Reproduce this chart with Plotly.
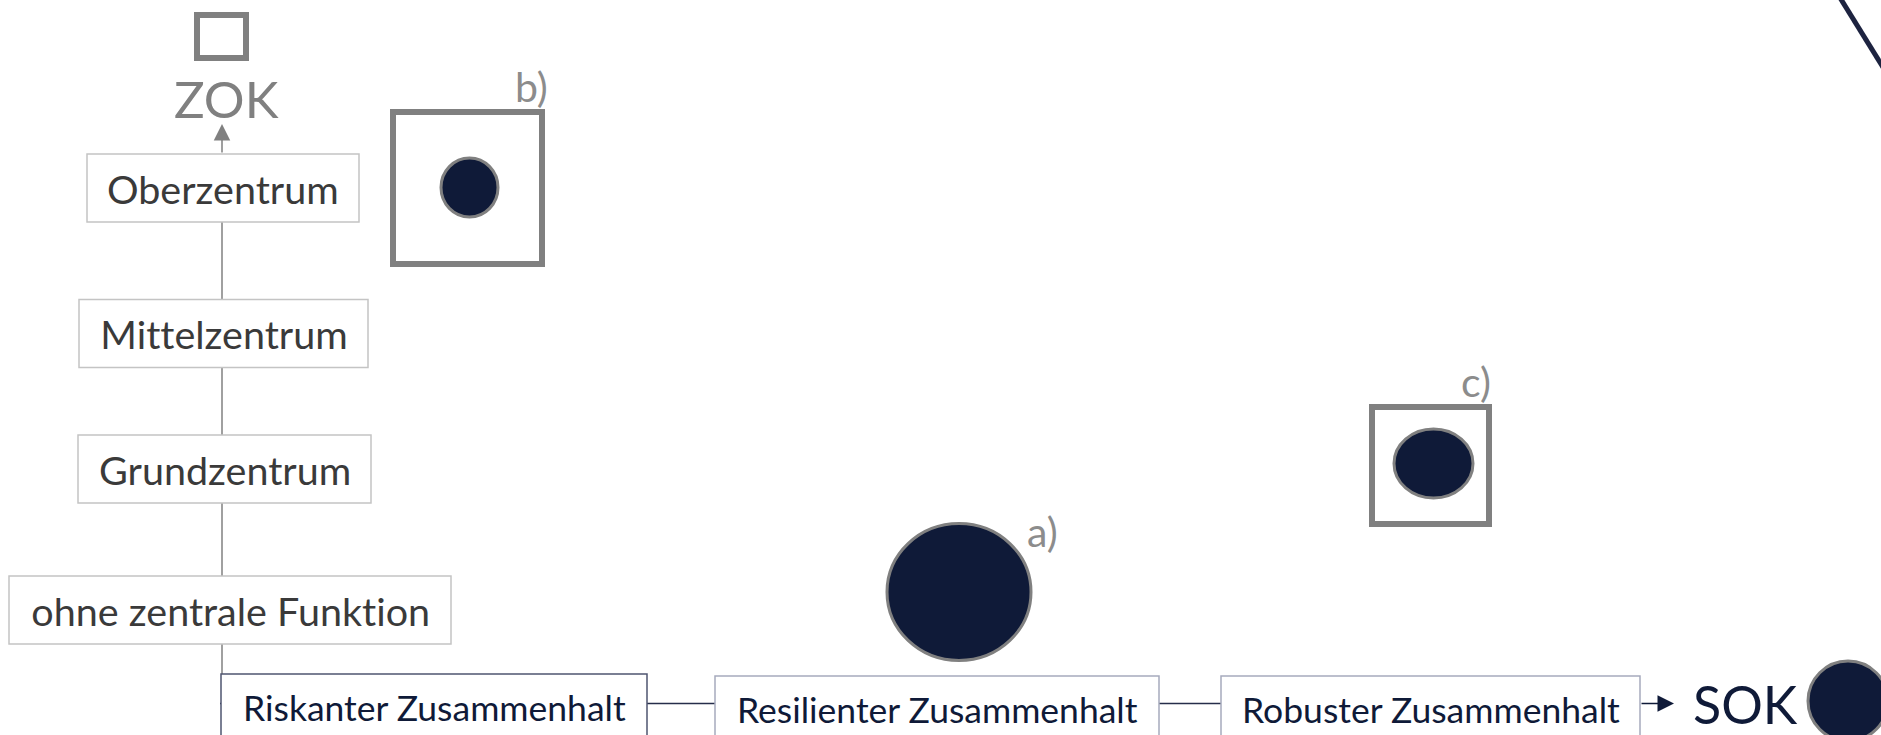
import plotly.graph_objects as go

W, H = 1881, 735

# ---------------- content (data) ----------------
zentral_levels = ["Oberzentrum", "Mittelzentrum", "Grundzentrum", "ohne zentrale Funktion"]
zusammenhalt_levels = ["Riskanter Zusammenhalt", "Resilienter Zusammenhalt", "Robuster Zusammenhalt"]
axis_titles = ["ZOK", "SOK"]
case_labels = ["a)", "b)", "c)"]
case_framed = [False, True, True]

# ---------------- geometry (pixels, layout only) ----------------
V_X = 222                      # vertical axis x
H_Y = 703.5                    # horizontal axis y
BOX_H = 68
zentral_box_cx = [223, 223.5, 224.5, 230]
zentral_box_cy = [188, 333.5, 469, 610]
zentral_box_w = [272, 289, 293, 442]
zus_box_cx = [434, 937, 1430.5]
zus_box_top = [674, 676, 676]
zus_box_w = [426, 444, 419]

case_cx = [959, 469.5, 1433.5]
case_cy = [592, 187.5, 463.5]
case_w = [144, 57, 79]
case_h = [137, 59, 69]
frame_c = [None, (467.5, 188), (1430.5, 465.5)]
frame_wh = [None, (149, 152), (117, 117)]
label_xy = [(1042, 531), (531, 86), (1476, 381)]

zok_icon_c, zok_icon_wh = (221.5, 36.5), (49, 43)
zok_text_xy = (226, 98)
sok_text_xy = (1745, 704)
sok_circle_c, sok_circle_r = (1848, 701), 40
arrow_v = (154, 124)           # from / to (y)
arrow_h = (1640, 1674)         # from / to (x)
diag = ((1834, -12), (1886, 72))

GRAY = "#808080"
NAVY = "#0f1a38"
TXT = "#3a3a3a"
FONT = "Lato"

shapes, annos = [], []

# axis lines (below boxes)
shapes.append(dict(type="line", x0=V_X, x1=V_X, y0=H_Y, y1=arrow_v[0],
                   line=dict(color=GRAY, width=1.5), layer="below"))
shapes.append(dict(type="line", x0=V_X - 2, x1=arrow_h[0], y0=H_Y, y1=H_Y,
                   line=dict(color="#262d4a", width=1.5), layer="below"))

# vertical category boxes
for lab, cx, cy, w in zip(zentral_levels, zentral_box_cx, zentral_box_cy, zentral_box_w):
    shapes.append(dict(type="rect", x0=cx - w / 2, x1=cx + w / 2, y0=cy - BOX_H / 2, y1=cy + BOX_H / 2,
                       fillcolor="white", line=dict(color="#c4c4c4", width=1.5), layer="below"))
    annos.append(dict(x=cx, y=cy, text=lab, showarrow=False, xanchor="center", yanchor="middle",
                      font=dict(family=FONT, size=39.5, color=TXT)))

# horizontal category boxes
for i, (lab, cx, top, w) in enumerate(zip(zusammenhalt_levels, zus_box_cx, zus_box_top, zus_box_w)):
    shapes.append(dict(type="rect", x0=cx - w / 2, x1=cx + w / 2, y0=top, y1=top + BOX_H,
                       fillcolor="white",
                       line=dict(color="#4f5670" if i == 0 else "#a6abbd", width=1.5), layer="below"))
    annos.append(dict(x=cx, y=top + BOX_H / 2 - 1, text=lab, showarrow=False, xanchor="center",
                      yanchor="middle", font=dict(family=FONT, size=35.5, color=NAVY)))

# arrows
annos.append(dict(x=V_X, y=arrow_v[1], ax=V_X, ay=arrow_v[0], axref="x", ayref="y", xref="x", yref="y",
                  text="", showarrow=True, arrowhead=2, arrowsize=2.2, arrowwidth=1.5, arrowcolor=GRAY))
annos.append(dict(x=arrow_h[1], y=H_Y, ax=arrow_h[0], ay=H_Y, axref="x", ayref="y", xref="x", yref="y",
                  text="", showarrow=True, arrowhead=2, arrowsize=2.2, arrowwidth=1.5, arrowcolor=NAVY))

# axis titles
annos.append(dict(x=zok_text_xy[0], y=zok_text_xy[1], text=axis_titles[0], showarrow=False,
                  font=dict(family=FONT, size=51, color=GRAY)))
annos.append(dict(x=sok_text_xy[0], y=sok_text_xy[1], text=axis_titles[1], showarrow=False,
                  font=dict(family=FONT, size=52, color=NAVY)))

# ZOK icon (empty square)
shapes.append(dict(type="rect", x0=zok_icon_c[0] - zok_icon_wh[0] / 2, x1=zok_icon_c[0] + zok_icon_wh[0] / 2,
                   y0=zok_icon_c[1] - zok_icon_wh[1] / 2, y1=zok_icon_c[1] + zok_icon_wh[1] / 2,
                   line=dict(color=GRAY, width=6)))
# SOK icon (circle)
shapes.append(dict(type="circle", x0=sok_circle_c[0] - sok_circle_r, x1=sok_circle_c[0] + sok_circle_r,
                   y0=sok_circle_c[1] - sok_circle_r, y1=sok_circle_c[1] + sok_circle_r,
                   fillcolor=NAVY, line=dict(color=GRAY, width=3)))

# cases
for lab, framed, cx, cy, w, h, fc, fwh, lxy in zip(case_labels, case_framed, case_cx, case_cy,
                                                   case_w, case_h, frame_c, frame_wh, label_xy):
    if framed:
        shapes.append(dict(type="rect", x0=fc[0] - fwh[0] / 2, x1=fc[0] + fwh[0] / 2,
                           y0=fc[1] - fwh[1] / 2, y1=fc[1] + fwh[1] / 2,
                           line=dict(color=GRAY, width=6)))
    shapes.append(dict(type="circle", x0=cx - w / 2, x1=cx + w / 2, y0=cy - h / 2, y1=cy + h / 2,
                       fillcolor=NAVY, line=dict(color=GRAY, width=3)))
    annos.append(dict(x=lxy[0], y=lxy[1], text=lab, showarrow=False,
                      font=dict(family=FONT, size=41, color="#8c8c8c")))

# decorative diagonal stroke (top right)
shapes.append(dict(type="line", x0=diag[0][0], y0=diag[0][1], x1=diag[1][0], y1=diag[1][1],
                   line=dict(color="#1d2340", width=5)))

fig = go.Figure()
fig.update_layout(
    width=W, height=H, margin=dict(l=0, r=0, t=0, b=0),
    paper_bgcolor="white", plot_bgcolor="white", showlegend=False,
    xaxis=dict(range=[0, W], visible=False, fixedrange=True),
    yaxis=dict(range=[H, 0], visible=False, fixedrange=True),
    shapes=shapes, annotations=annos,
)
post = ("document.body.style.margin='0';document.body.style.overflow='hidden';"
        "var s=document.createElement('style');"
        "s.textContent='text{font-variant-ligatures:none;font-feature-settings:\"liga\" 0;}';"
        "document.head.appendChild(s);")
fig.write_html("out.html", post_script=post, config={"displayModeBar": False})
